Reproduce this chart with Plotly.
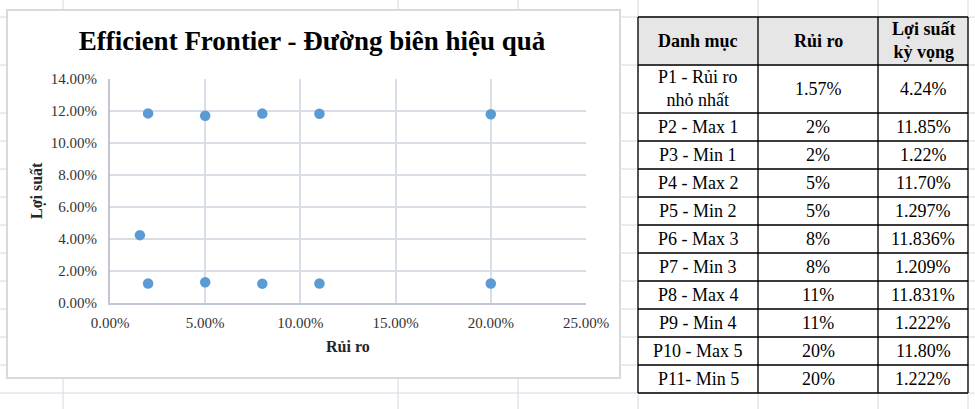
import plotly.graph_objects as go

# ---------------- data ----------------
portfolios = ["P1 - Rủi ro<br>nhỏ nhất", "P2 - Max 1", "P3 - Min 1", "P4 - Max 2", "P5 - Min 2",
              "P6 - Max 3", "P7 - Min 3", "P8 - Max 4", "P9 - Min 4", "P10 - Max 5", "P11- Min 5"]
risk_labels = ["1.57%", "2%", "2%", "5%", "5%", "8%", "8%", "11%", "11%", "20%", "20%"]
return_labels = ["4.24%", "11.85%", "1.22%", "11.70%", "1.297%", "11.836%", "1.209%",
                 "11.831%", "1.222%", "11.80%", "1.222%"]
header_labels = ["Danh mục", "Rủi ro", "Lợi suất<br>kỳ vọng"]

risk = [float(s.rstrip("%")) / 100 for s in risk_labels]
ret = [float(s.rstrip("%")) / 100 for s in return_labels]

# ---------------- layout geometry (pixels) ----------------
W_FIG, H_FIG = 975, 409
PL, PR, PT, PB = 110, 586, 79, 303  # plot area
PW, PH = PR - PL, PB - PT

def px(x):
    return (x - PL) / PW

def py(y):
    return (PB - y) / PH

SERIF = "Liberation Serif, Times New Roman, serif"
SHEET = "#d5d7e6"

shapes = []
# Excel sheet gridlines
row_lines = [17, 65, 113, 141, 169, 197, 225, 253, 281, 309, 337, 365, 393]
col_lines = [63, 398, 518, 638, 758, 878, 968]
for r in row_lines:
    shapes.append(dict(type="line", xref="paper", yref="paper", x0=px(0), x1=px(W_FIG),
                       y0=py(r), y1=py(r), line=dict(color=SHEET, width=1), layer="below"))
for c in col_lines:
    shapes.append(dict(type="line", xref="paper", yref="paper", x0=px(c), x1=px(c),
                       y0=py(0), y1=py(H_FIG), line=dict(color=SHEET, width=1), layer="below"))
# chart box
shapes.append(dict(type="rect", xref="paper", yref="paper", x0=px(7), x1=px(620),
                   y0=py(10), y1=py(378), fillcolor="white",
                   line=dict(color="#d9d9d9", width=2), layer="below"))

# table
TL, TR = 638, 968
col_x = [638, 758, 878, 968]
row_h = [48, 48] + [28] * 10
row_y = [17]
for h in row_h:
    row_y.append(row_y[-1] + h)
shapes.append(dict(type="rect", xref="paper", yref="paper", x0=px(TL), x1=px(TR),
                   y0=py(row_y[0]), y1=py(row_y[1]), fillcolor="#e7e6e6",
                   line=dict(width=0), layer="above"))
for yv in row_y:
    shapes.append(dict(type="line", xref="paper", yref="paper", x0=px(TL), x1=px(TR),
                       y0=py(yv), y1=py(yv), line=dict(color="black", width=1.3), layer="above"))
for xv in col_x:
    shapes.append(dict(type="line", xref="paper", yref="paper", x0=px(xv), x1=px(xv),
                       y0=py(row_y[0]), y1=py(row_y[-1]), line=dict(color="black", width=1.3),
                       layer="above"))

annotations = []
col_c = [(col_x[i] + col_x[i + 1]) / 2 for i in range(3)]
for i, h in enumerate(header_labels):
    annotations.append(dict(text=f"<b>{h}</b>", xref="paper", yref="paper",
                            x=px(col_c[i]), y=py((row_y[0] + row_y[1]) / 2),
                            xanchor="center", yanchor="middle", showarrow=False,
                            font=dict(family=SERIF, size=18, color="black")))
for r in range(len(portfolios)):
    yc = py((row_y[r + 1] + row_y[r + 2]) / 2)
    for i, txt in enumerate([portfolios[r], risk_labels[r], return_labels[r]]):
        annotations.append(dict(text=txt, xref="paper", yref="paper", x=px(col_c[i]), y=yc,
                                xanchor="center", yanchor="middle", showarrow=False,
                                font=dict(family=SERIF, size=18, color="black")))

# axis titles
annotations.append(dict(text="<b>Rủi ro</b>", xref="paper", yref="paper", x=0.5, y=py(346),
                        xanchor="center", yanchor="middle", showarrow=False,
                        font=dict(family=SERIF, size=16, color="#262626")))
annotations.append(dict(text="<b>Lợi suất</b>", xref="paper", yref="paper", x=px(37), y=0.5,
                        xanchor="center", yanchor="middle", showarrow=False, textangle=-90,
                        font=dict(family=SERIF, size=16, color="#262626")))

fig = go.Figure()
fig.add_trace(go.Scatter(x=risk, y=ret, mode="markers",
                         marker=dict(color="#5b9bd5", size=10.5, line=dict(width=0)),
                         showlegend=False))

fig.update_layout(
    width=W_FIG, height=H_FIG,
    margin=dict(l=PL, r=W_FIG - PR, t=PT, b=H_FIG - PB),
    paper_bgcolor="white", plot_bgcolor="rgba(0,0,0,0)",
    title=dict(text="<b>Efficient Frontier - Đường biên hiệu quả</b>", xref="container",
               yref="container", x=312 / W_FIG, y=1 - 41 / H_FIG, xanchor="center",
               yanchor="middle", font=dict(family=SERIF, size=27, color="black")),
    shapes=shapes, annotations=annotations,
    font=dict(family=SERIF),
)
fig.update_xaxes(range=[0, 0.25], dtick=0.05, tick0=0, tickformat=".2%", showgrid=True,
                 gridcolor="#d9dee6", gridwidth=1.5, zeroline=False, showline=True,
                 linecolor="#c0c7d3", linewidth=2, ticks="", ticklabelstandoff=5,
                 tickfont=dict(family=SERIF, size=15, color="#333333"))
fig.update_yaxes(range=[0, 0.14], dtick=0.02, tick0=0, tickformat=".2%", showgrid=True,
                 gridcolor="#d9dee6", gridwidth=1.5, zeroline=False, showline=True,
                 linecolor="#c0c7d3", linewidth=2, ticks="", ticklabelstandoff=8,
                 tickfont=dict(family=SERIF, size=15, color="#333333"))

fig.write_html("out.html")
